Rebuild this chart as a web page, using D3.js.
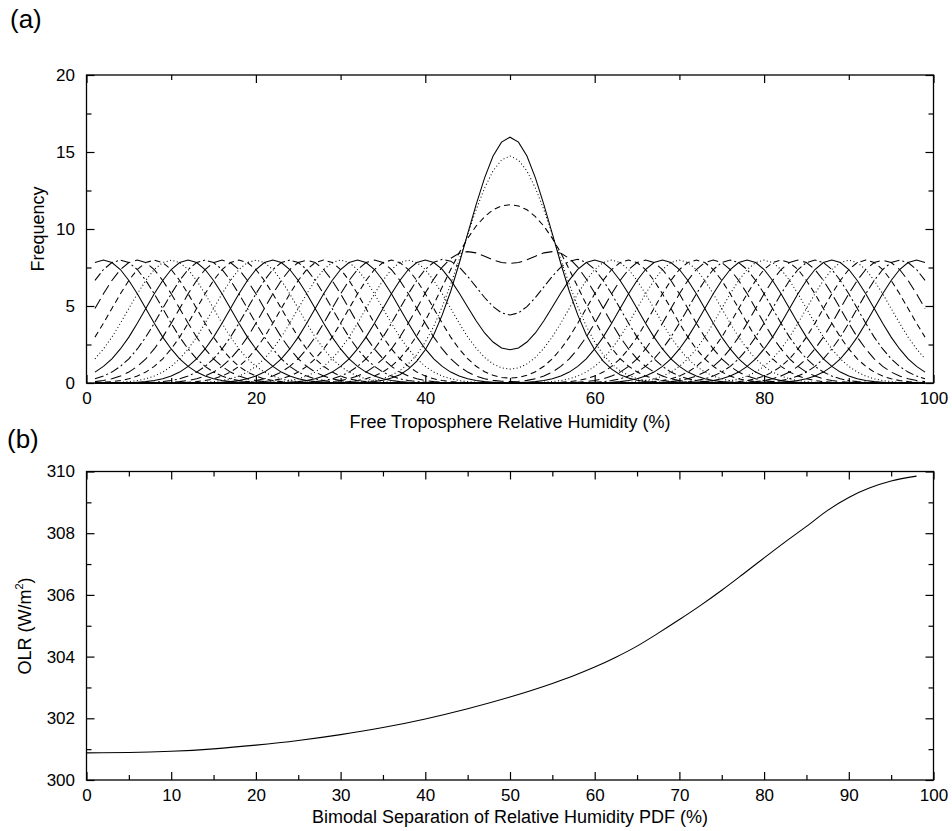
<!DOCTYPE html>
<html>
<head>
<meta charset="utf-8">
<script src="https://cdn.jsdelivr.net/npm/d3@7/dist/d3.min.js"></script>
<style>
  html, body { margin: 0; padding: 0; background: #fff; }
  svg { display: block; }
  text { font-family: "Liberation Sans", Arial, Helvetica, sans-serif; fill: #000; }
</style>
</head>
<body>
<svg id="chart" width="952" height="831"></svg>
<script>
// ---------------- DATA ----------------
// Panel (a): bimodal separations (%) of the plotted PDFs
const separations = [0, 4, 8, 12, 16, 20, 24, 28, 32, 36, 40, 44, 48, 52, 56, 60, 64, 68, 72, 76, 80, 84, 88, 92, 96];
// Frequency of a single mode at distance 0,1,2,... (%) from its centre
const modeProfile = [7.98, 7.82, 7.37, 6.66, 5.79, 4.84, 3.88, 2.98, 2.21, 1.57, 1.08, 0.71, 0.45, 0.27, 0.16, 0.09, 0.05, 0.02, 0.01, 0.005, 0.002];
// Relative humidity grid (%) on which the PDFs are sampled
const humidityGrid = d3.range(1, 100);
const pdfCentre = 50;
// Panel (b): OLR vs bimodal separation
const olrSeparation = [0, 5, 10, 15, 20, 25, 30, 35, 40, 45, 50, 55, 57.5, 60, 62.5, 65, 67.5, 70, 72.5, 75, 77.5, 80, 82.5, 85, 87.5, 90, 92.5, 95, 98];
const olrValues = [300.88, 300.89, 300.93, 301.01, 301.13, 301.28, 301.47, 301.70, 301.98, 302.31, 302.69, 303.13, 303.38, 303.66, 303.98, 304.34, 304.76, 305.20, 305.66, 306.15, 306.67, 307.20, 307.72, 308.22, 308.74, 309.16, 309.47, 309.69, 309.85];
// Tick values
const aXMajor = [0, 20, 40, 60, 80, 100], aXMinor = [10, 30, 50, 70, 90];
const aYMajor = [0, 5, 10, 15, 20], aYMinor = [2.5, 7.5, 12.5, 17.5];
const bXMajor = [0, 10, 20, 30, 40, 50, 60, 70, 80, 90, 100], bXMinor = [5, 15, 25, 35, 45, 55, 65, 75, 85, 95];
const bYMajor = [300, 302, 304, 306, 308, 310], bYMinor = [301, 303, 305, 307, 309];

// ---------------- STYLES ----------------
const DASH = { solid: null, dotted: "1,2.5", dashed: "6,4", longdash: "11,5", dashdot: "9,3,2,3" };
const styleCycle = ["solid","dotted","dashed","longdash","dashdot",
                    "solid","dotted","dashed","longdash",
                    "solid","dotted","dashed","longdash","dashdot",
                    "solid","dotted","dashed","longdash","dashdot",
                    "solid","dotted","dashed","longdash","dashdot",
                    "solid"];

const svg = d3.select("#chart");
svg.append("rect").attr("width", 952).attr("height", 831).attr("fill", "#fff");

const L = 86.5, R = 933.5;
const FONT_TICK = 17, FONT_TITLE = 18;

function frame(g, x, y, xMaj, xMin, yMaj, yMin, xPad, yFmt) {
  const [y0, y1] = y.range();
  const h = y0 - y1;
  g.append("g").attr("transform", `translate(0,${y0})`)
    .call(d3.axisBottom(x).tickValues(xMaj).tickSize(-8).tickPadding(xPad).tickFormat(d3.format("d")));
  g.append("g").attr("transform", `translate(0,${y0})`)
    .call(d3.axisBottom(x).tickValues(xMin).tickSize(-5).tickFormat(""));
  g.append("g").attr("transform", `translate(0,${y1})`)
    .call(d3.axisTop(x).tickValues(xMaj).tickSize(-8).tickFormat(""));
  g.append("g").attr("transform", `translate(0,${y1})`)
    .call(d3.axisTop(x).tickValues(xMin).tickSize(-5).tickFormat(""));
  g.append("g").attr("transform", `translate(${L},0)`)
    .call(d3.axisLeft(y).tickValues(yMaj).tickSize(-8).tickPadding(11.5).tickFormat(yFmt));
  g.append("g").attr("transform", `translate(${L},0)`)
    .call(d3.axisLeft(y).tickValues(yMin).tickSize(-5).tickFormat(""));
  g.append("g").attr("transform", `translate(${R},0)`)
    .call(d3.axisRight(y).tickValues(yMaj).tickSize(-8).tickFormat(""));
  g.append("g").attr("transform", `translate(${R},0)`)
    .call(d3.axisRight(y).tickValues(yMin).tickSize(-5).tickFormat(""));
  g.selectAll(".domain").remove();
  g.selectAll(".tick line").attr("stroke", "#000").attr("stroke-width", 1.2);
  g.selectAll(".tick text").attr("font-size", FONT_TICK).attr("font-family", '"Liberation Sans", Arial, sans-serif');
  g.append("rect").attr("x", L).attr("y", y1).attr("width", R - L).attr("height", h)
    .attr("fill", "none").attr("stroke", "#000").attr("stroke-width", 1.3);
}

// ---------------- PANEL (a) ----------------
const xa = d3.scaleLinear().domain([0, 100]).range([L, R]);
const ya = d3.scaleLinear().domain([0, 20]).range([383, 75]);
const ga = svg.append("g");

function modeAt(dist) {
  const k = Math.round(Math.abs(dist));
  return k < modeProfile.length ? modeProfile[k] : 0;
}
const curvesA = separations.map((s, i) => ({
  style: styleCycle[i],
  pts: humidityGrid.map(h => [h, modeAt(h - (pdfCentre - s / 2)) + modeAt(h - (pdfCentre + s / 2))])
}));
const lineA = d3.line().x(d => xa(d[0])).y(d => ya(d[1]));
ga.append("g").selectAll("path").data(curvesA).join("path")
  .attr("d", d => lineA(d.pts))
  .attr("fill", "none").attr("stroke", "#000").attr("stroke-width", 1.05)
  .attr("stroke-dasharray", d => DASH[d.style]);

frame(ga, xa, ya, aXMajor, aXMinor, aYMajor, aYMinor, 9, d3.format("d"));

svg.append("text").attr("x", 10).attr("y", 28).attr("font-size", 26).text("(a)");
svg.append("text").attr("transform", "translate(44,229) rotate(-90)")
  .attr("text-anchor", "middle").attr("font-size", FONT_TITLE).text("Frequency");
svg.append("text").attr("x", (L + R) / 2).attr("y", 428)
  .attr("text-anchor", "middle").attr("font-size", FONT_TITLE).text("Free Troposphere Relative Humidity (%)");

// ---------------- PANEL (b) ----------------
const xb = d3.scaleLinear().domain([0, 100]).range([L, R]);
const yb = d3.scaleLinear().domain([300, 310]).range([780, 471.5]);
const gb = svg.append("g");
const lineB = d3.line().x((d, i) => xb(olrSeparation[i])).y(d => yb(d)).curve(d3.curveMonotoneX);
gb.append("path").datum(olrValues).attr("d", lineB)
  .attr("fill", "none").attr("stroke", "#000").attr("stroke-width", 1.1);

frame(gb, xb, yb, bXMajor, bXMinor, bYMajor, bYMinor, 8.5, d3.format("d"));

svg.append("text").attr("x", 7).attr("y", 448).attr("font-size", 26).text("(b)");
const olrLab = svg.append("text").attr("transform", "translate(31,626) rotate(-90)")
  .attr("text-anchor", "middle").attr("font-size", FONT_TITLE);
olrLab.append("tspan").text("OLR (W/m");
olrLab.append("tspan").attr("font-size", 11).attr("dy", -8).text("2");
olrLab.append("tspan").attr("dy", 8).text(")");
svg.append("text").attr("x", (L + R) / 2).attr("y", 823)
  .attr("text-anchor", "middle").attr("font-size", FONT_TITLE).text("Bimodal Separation of Relative Humidity PDF (%)");
</script>
</body>
</html>
